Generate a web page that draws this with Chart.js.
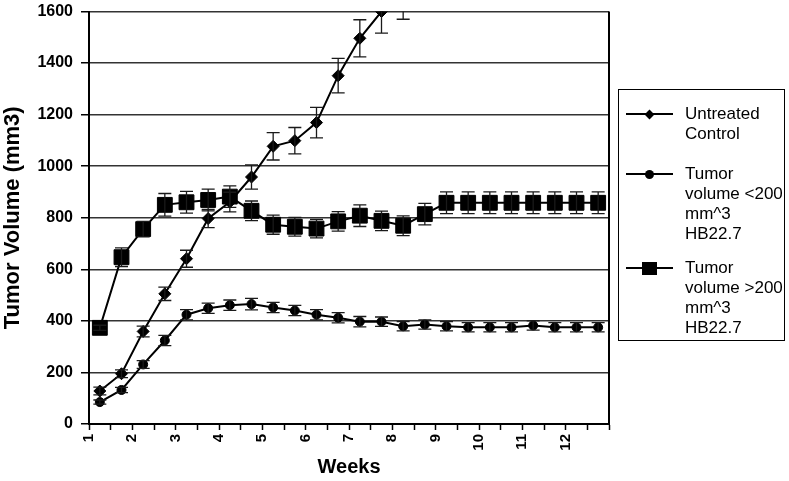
<!DOCTYPE html>
<html><head><meta charset="utf-8">
<script src="https://cdn.jsdelivr.net/npm/chart.js@4.4.0/dist/chart.umd.min.js"></script>
<style>
html,body{margin:0;padding:0;background:#fff;}
#wrap{position:relative;width:789px;height:481px;overflow:hidden;}
#legend{position:absolute;left:618px;top:89px;width:167px;height:252px;border:1px solid #000;box-sizing:border-box;font-family:"Liberation Sans",Arial,sans-serif;font-size:17px;line-height:20px;color:#000;}
.item{position:absolute;left:0;width:100%;}
.txt{position:absolute;left:66px;top:0;white-space:nowrap;}
.ln{position:absolute;left:7px;width:47px;height:2px;background:#000;top:9px;}
.mk{position:absolute;background:#000;}
</style></head><body>
<div id="wrap"><canvas id="c" width="789" height="481"></canvas><div id="legend"></div></div>
<script>
// ---- data ----
const weeks = [1.25, 1.75, 2.25, 2.75, 3.25, 3.75, 4.25, 4.75, 5.25, 5.75, 6.25, 6.75,
               7.25, 7.75, 8.25, 8.75, 9.25, 9.75, 10.25, 10.75, 11.25, 11.75, 12.25, 12.75];
const weekLabels = ['1','2','3','4','5','6','7','8','9','10','11','12'];
const seriesNames = [
  ['Untreated', 'Control'],
  ['Tumor', 'volume <200', 'mm^3', 'HB22.7'],
  ['Tumor', 'volume >200', 'mm^3', 'HB22.7']
];
const untreated    = [128, 195, 359, 505, 641, 797, 861, 958, 1077, 1099, 1169, 1351, 1496, 1600, 1650];
const untreatedErr = [15, 15, 21, 26, 33, 35, 38, 47, 53, 51, 59, 67, 72, 84, 80];
const small    = [85, 132, 231, 324, 424, 449, 461, 465, 452, 440, 424, 412, 397, 397, 379, 386, 379, 375, 375, 375, 382, 375, 375, 375];
const smallErr = [8, 10, 15, 20, 20, 20, 20, 22, 20, 20, 20, 20, 20, 18, 18, 18, 18, 18, 18, 18, 18, 18, 18, 18];
const large    = [373, 647, 756, 850, 860, 869, 882, 827, 773, 765, 758, 786, 808, 788, 769, 814, 858, 858, 858, 858, 858, 858, 858, 858];
const largeErr = [10, 36, 30, 44, 42, 42, 42, 38, 37, 36, 36, 38, 42, 38, 38, 42, 42, 42, 42, 42, 42, 42, 42, 42];
const xTitle = 'Weeks';
const yTitle = 'Tumor Volume (mm3)';

Chart.defaults.font.family = '"Liberation Sans", Arial, sans-serif';
Chart.defaults.color = '#000';

function pts(vals){ return vals.map((v,i)=>({x: weeks[i], y: v})); }

const errorBarPlugin = {
  id: 'errorBars',
  afterDatasetsDraw(chart){
    const {ctx, chartArea: a, scales: {x, y}} = chart;
    ctx.save();
    ctx.beginPath(); ctx.rect(a.left, a.top, a.right - a.left, a.bottom - a.top); ctx.clip();
    ctx.strokeStyle = '#1a1a1a'; ctx.lineWidth = 1.3;
    chart.data.datasets.forEach(ds => {
      const errs = ds.errors; if (!errs) return;
      ds.data.forEach((p, i) => {
        const px = x.getPixelForValue(p.x);
        const top = y.getPixelForValue(p.y + errs[i]);
        const bot = y.getPixelForValue(p.y - errs[i]);
        const hw = 6.5;
        ctx.beginPath();
        ctx.moveTo(px, top); ctx.lineTo(px, bot);
        ctx.moveTo(px - hw, top); ctx.lineTo(px + hw, top);
        ctx.moveTo(px - hw, bot); ctx.lineTo(px + hw, bot);
        ctx.stroke();
      });
    });
    ctx.restore();
  }
};
const framePlugin = {
  id: 'frame',
  afterDraw(chart){
    const {ctx, chartArea: a} = chart;
    ctx.save();
    ctx.strokeStyle = '#000'; ctx.lineWidth = 2;
    ctx.beginPath(); ctx.moveTo(a.right, a.top); ctx.lineTo(a.right, a.bottom); ctx.stroke();
    ctx.restore();
  }
};

const common = {borderColor:'#000', backgroundColor:'#000', borderWidth:2, pointBorderColor:'#000',
                pointBackgroundColor:'#000', pointBorderWidth:1, clip:0, tension:0};
const datasets = [
  Object.assign({label: seriesNames[0].join(' '), data: pts(untreated), errors: untreatedErr,
    pointStyle:'rectRot', pointRadius:6}, common),
  Object.assign({label: seriesNames[1].join(' '), data: pts(small), errors: smallErr,
    pointStyle:'circle', pointRadius:4.5}, common),
  Object.assign({label: seriesNames[2].join(' '), data: pts(large), errors: largeErr,
    pointStyle:'rect', pointRadius:10.5}, common)
];

new Chart(document.getElementById('c'), {
  type: 'line',
  data: {datasets},
  options: {
    responsive: false, animation: false,
    layout: {padding: {top: 0, right: 180, left: 0, bottom: 0}},
    plugins: {legend: {display: false}, tooltip: {enabled: false}},
    scales: {
      x: {
        type: 'linear', min: 1, max: 13,
        ticks: {stepSize: 0.5, autoSkip: false, minRotation: 90, maxRotation: 90, padding: 4,
          font: {size: 15, weight: 'bold'}, color: '#000',
          callback: (v) => (Number.isInteger(v) && v >= 1 && v <= 12) ? weekLabels[v - 1] : ''},
        grid: {display: true, drawOnChartArea: false, drawTicks: true, tickLength: 6, tickColor: '#000', tickWidth: 1.5},
        border: {display: true, color: '#000', width: 2},
        title: {display: true, text: xTitle, font: {size: 20, weight: 'bold'}, color: '#000', padding: {top: 0, bottom: 2}},
        afterFit(s){ s.height = 57; }
      },
      y: {
        min: 0, max: 1600,
        ticks: {stepSize: 200, font: {size: 16, weight: 'bold', lineHeight: 0.01}, color: '#000', padding: 8,
          callback: (v) => String(v)},
        grid: {color: '#333', lineWidth: 1.5, tickLength: 8, tickColor: '#000', tickWidth: 1.5},
        border: {color: '#000', width: 2},
        title: {display: true, text: yTitle, font: {size: 22, weight: 'bold'}, color: '#000', padding: {top: 0, bottom: 0}},
        afterFit(s){ s.width = 89; }
      }
    }
  },
  plugins: [errorBarPlugin, framePlugin]
});

// ---- HTML legend built from the series names ----
const legend = document.getElementById('legend');
const itemTops = [14, 74, 168];
const markers = [
  {w:7, h:7, rot:45, r:0},
  {w:9, h:9, rot:0, r:50},
  {w:15, h:13, rot:0, r:0}
];
seriesNames.forEach((lines, k) => {
  const it = document.createElement('div');
  it.className = 'item'; it.style.top = itemTops[k] + 'px';
  const ln = document.createElement('div'); ln.className = 'ln'; it.appendChild(ln);
  const m = markers[k];
  const mk = document.createElement('div'); mk.className = 'mk';
  mk.style.width = m.w + 'px'; mk.style.height = m.h + 'px';
  mk.style.left = (30.5 - m.w / 2) + 'px'; mk.style.top = (10 - m.h / 2) + 'px';
  if (m.rot) mk.style.transform = 'rotate(' + m.rot + 'deg)';
  if (m.r) mk.style.borderRadius = m.r + '%';
  it.appendChild(mk);
  const t = document.createElement('div'); t.className = 'txt';
  t.innerHTML = lines.map(s => s.replace(/</g,'&lt;').replace(/>/g,'&gt;')).join('<br>');
  it.appendChild(t);
  legend.appendChild(it);
});
</script>
</body></html>
